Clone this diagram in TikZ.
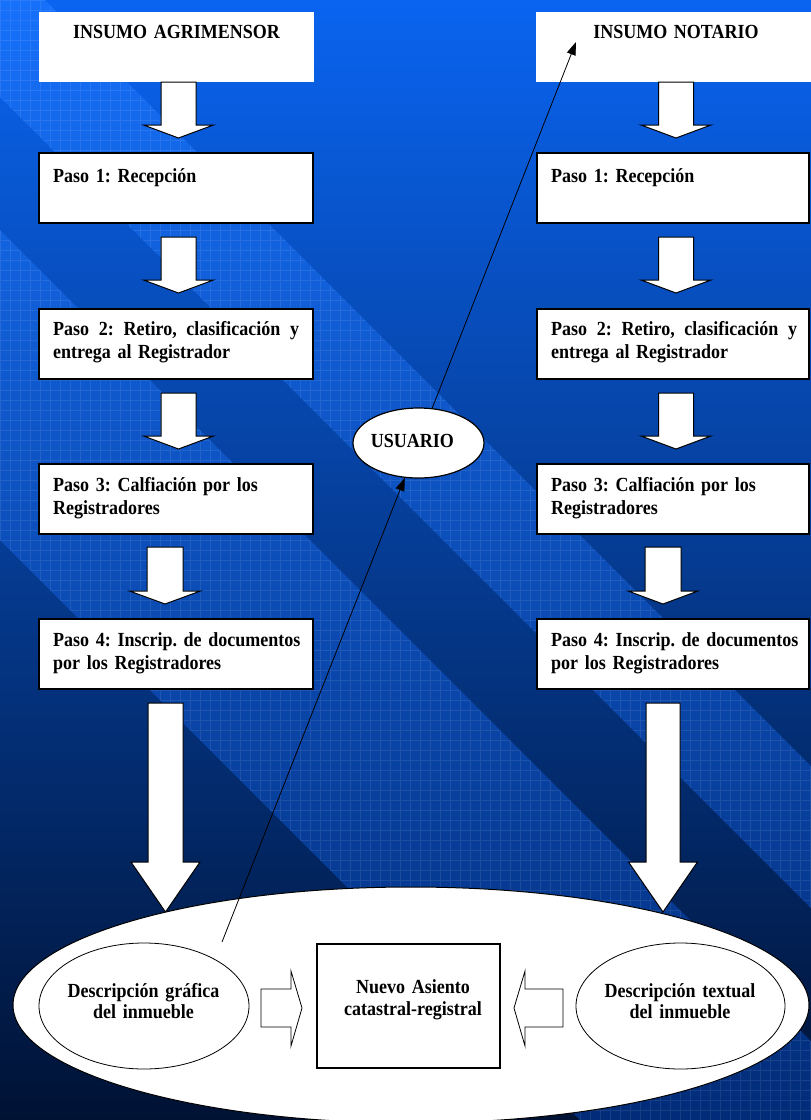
\documentclass[tikz,border=0pt]{standalone}
\usepackage{fontspec}
\setmainfont[FakeStretch=0.9]{Liberation Serif}
\usetikzlibrary{arrows.meta,shapes.geometric}
\hyphenpenalty=10000
\exhyphenpenalty=10000

\definecolor{skytop}{RGB}{10,100,240}
\definecolor{skymid}{RGB}{0,72,192}
\definecolor{skylow}{RGB}{0,18,52}
\definecolor{bandtop}{RGB}{22,112,250}
\definecolor{bandmid}{RGB}{8,88,222}
\definecolor{bandlow}{RGB}{2,44,120}

\tikzset{
  lbl/.style={font=\fontsize{20}{23}\selectfont\bfseries, inner sep=0pt, text=black},
  lblc/.style={lbl, text width=230pt, align=center, anchor=base},
  lbll/.style={lbl, text width=262pt, align=left, anchor=base west},
  headbox/.style={fill=white, draw=none, inner sep=0pt, minimum width=275pt, minimum height=70pt, anchor=north west},
  stepbox/.style={draw=black, line width=2pt, fill=white, inner sep=0pt, minimum height=70pt, anchor=north west},
  blockline/.style={draw=black, line width=1pt, fill=white, line join=miter},
  hollow/.style={draw=black, line width=0.8pt, fill=white},
  oval/.style={ellipse, draw=black, line width=1pt, fill=white, inner sep=0pt},
  conn/.style={line width=0.8pt, -{Triangle[length=13pt,width=9pt]}},
  gridline/.style={white, opacity=0.09, line width=0.5pt},
  pics/downblock/.style n args={4}{code={
    \path[blockline] (-#1,0) -- (-#1,#3) -- (-#2,#3) -- (0,#4) -- (#2,#3) -- (#1,#3) -- (#1,0) -- cycle;
  }},
}
\newcommand{\spreadline}{\makebox[246pt][l]{Paso \hfill 2: \hfill Retiro, \hfill clasificación \hfill y}}

\begin{document}
\frenchspacing
\begin{tikzpicture}[x=1pt,y=-1pt]
\useasboundingbox (0,0) rectangle (811,1120);
\clip (0,0) rectangle (811,1120);

% backdrop: vertical blend with diagonal gridded bands
\shade[top color=skytop, middle color=skymid, bottom color=skylow] (0,0) rectangle (811,1120);
\foreach \ua/\ub in {-540/-230,-97/45} {
  \begin{scope}
    \clip (\ua,0) -- (\ub,0) -- (\ub+1120,1120) -- (\ua+1120,1120) -- cycle;
    \shade[top color=bandtop, middle color=bandmid, bottom color=bandlow] (0,0) rectangle (811,1120);
    \draw[gridline, xstep=10pt, ystep=10pt] (0,0) grid (811,1120);
  \end{scope}
}

% input boxes
\node[headbox] (agri) at (39,12) {};
\node[headbox] (nota) at (536,12) {};
\node[lblc] (agritext) at (176.5,38) {INSUMO AGRIMENSOR};
\node[lblc] (notatext) at (676,38) {INSUMO NOTARIO};

% step boxes, left column
\node[stepbox, minimum width=274pt] (L1) at (38,152) {};
\node[stepbox, minimum width=274pt] (L2) at (38,308) {};
\node[stepbox, minimum width=274pt] (L3) at (38,463) {};
\node[stepbox, minimum width=274pt] (L4) at (38,618) {};
% step boxes, right column
\node[stepbox, minimum width=272pt] (R1) at (536,152) {};
\node[stepbox, minimum width=272pt] (R2) at (536,308) {};
\node[stepbox, minimum width=272pt] (R3) at (536,463) {};
\node[stepbox, minimum width=272pt] (R4) at (536,618) {};

\node[lbll] (L1t) at (53,182) {Paso 1: Recepción};
\node[lbll] (L2t) at (53,335) {\spreadline\\entrega al Registrador};
\node[lbll] (L3t) at (53,491) {Paso 3: Calfiación por los\\Registradores};
\node[lbll] (L4t) at (53,646) {Paso 4: Inscrip. de documentos\\por los Registradores};

\node[lbll] (R1t) at (551,182) {Paso 1: Recepción};
\node[lbll] (R2t) at (551,335) {\spreadline\\entrega al Registrador};
\node[lbll] (R3t) at (551,491) {Paso 3: Calfiación por los\\Registradores};
\node[lbll] (R4t) at (551,646) {Paso 4: Inscrip. de documentos\\por los Registradores};

% block arrows between the steps
\pic at (178.5,82)  {downblock={17.5}{35}{43}{56}};
\pic at (178.5,237) {downblock={17.5}{35}{43}{56}};
\pic at (178.5,393) {downblock={17.5}{35}{43}{56}};
\pic at (165,547)   {downblock={18}{35.5}{44}{57}};
\pic at (165.5,703) {downblock={17.5}{34.5}{159}{209}};
\pic at (676,82)    {downblock={17.5}{35}{43}{56}};
\pic at (676,237)   {downblock={17.5}{35}{43}{56}};
\pic at (676,393)   {downblock={17.5}{35}{43}{56}};
\pic at (663,547)   {downblock={18}{35}{44}{57}};
\pic at (663,703)   {downblock={17}{34.5}{159}{209}};

% result area
\node[oval, minimum width=796pt, minimum height=236pt] (base) at (411,1005) {};
\node[oval, line width=0.8pt, minimum width=210pt, minimum height=126pt] (grafica) at (144,1006) {};
\node[oval, line width=0.8pt, minimum width=209pt, minimum height=126pt] (textual) at (680.5,1006) {};
\node[draw=black, line width=2pt, fill=white, inner sep=0pt, minimum width=183pt, minimum height=124pt] (asiento) at (408.5,1006) {};

\node[lblc, font=\fontsize{20}{21.5}\selectfont\bfseries] (graficat) at (143.5,997) {Descripción gráfica\\del inmueble};
\node[lblc, font=\fontsize{20}{21.5}\selectfont\bfseries] (textualt) at (680,997) {Descripción textual\\del inmueble};
\node[lblc, font=\fontsize{20}{22}\selectfont\bfseries] (asientot) at (413,993) {Nuevo Asiento\\catastral-registral};

\path[hollow] (261,989) -- (291,989) -- (291,971) -- (302,1008) -- (291,1046) -- (291,1027) -- (261,1027) -- cycle;
\path[hollow] (563,989) -- (525,989) -- (525,971) -- (514,1008) -- (525,1046) -- (525,1027) -- (563,1027) -- cycle;

% user loop
\node[oval, line width=1.2pt, minimum width=131pt, minimum height=70pt] (usr) at (418.5,443) {};
\node[lblc] (usrtext) at (412.5,447) {USUARIO};

\coordinate (ustart) at (222,942);
\coordinate (nreach) at (576,42);
\draw[conn] (ustart) -- (usr);
\draw[conn] (usr) -- (nreach);
\end{tikzpicture}
\end{document}
